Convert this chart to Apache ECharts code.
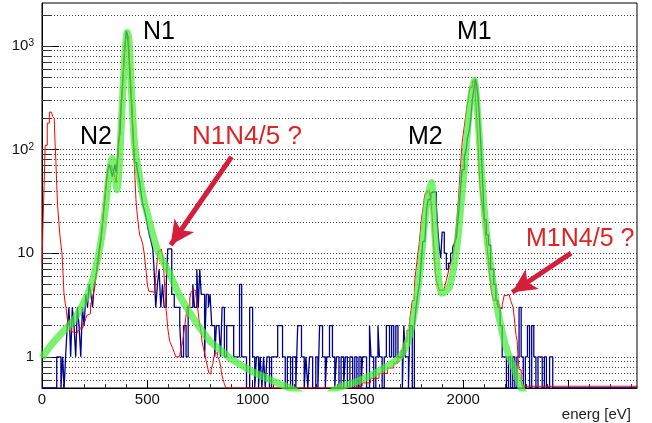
<!DOCTYPE html>
<html><head><meta charset="utf-8">
<script src="https://cdn.jsdelivr.net/npm/echarts@6/dist/echarts.min.js"></script>
<style>html,body{margin:0;padding:0;background:#fff}#c{width:652px;height:423px}</style>
</head><body><div id="c"></div>
<script>
// ---- data (energy in eV, counts) ----
const redE = [0,5,10,15,25,35,45,50,58,62,66,70,74,80,85,90,95,100,104,110,114,118,123,130,140,147,170,180,195,204,212,218,230,237,245,251,256,261,266,270,275,280,285,289,294,299,304,308,313,318,325,332,340,348,352,356,360,365,370,374,379,384,389,393,398,403,412,417,422,427,431,436,441,446,450,455,460,464,470,479,485,490,495,500,507,512,536,540,548,552,566,574,578,583,588,593,597,602,607,614,621,628,635,654,660,668,673,678,685,692,702,708,716,730,735,739,745,754,760,767,773,780,787,792,796,803,811,816,820,827,834,840,844,849,853,860,866,872,1480,1520,1560,1600,1640,1670,1690,1705,1720,1733,1745,1752,1758,1768,1772,1777,1785,1791,1796,1801,1806,1810,1815,1820,1830,1840,1848,1853,1858,1863,1868,1872,1880,1886,1910,1915,1920,1927,1934,1940,1948,1953,1958,1962,1967,1972,1977,1981,1986,1991,1995,2000,2005,2010,2014,2019,2024,2028,2033,2043,2050,2057,2062,2067,2072,2076,2081,2086,2090,2095,2100,2105,2110,2115,2120,2124,2130,2134,2143,2160,2171,2180,2185,2190,2194,2204,2210,2218,2225,2232,2237,2242,2247,2251,2256,2260,2265,2275,2280];
const redN = [8,20,45,110,180,230,235,210,200,117,77,45,29,20,15,12,10,6.4,4.2,3.3,3,2.5,2.2,1.9,1.75,1.7,1.8,1.9,2.1,2.2,2.5,2.6,3.2,3.5,4.2,4.7,5.8,6.8,8,9,11,13,17,22,28,35,43,51,64,68,70,66,60,52,48,50,80,117,195,260,325,450,700,1000,1200,1250,980,640,410,260,165,93,55,33,26,21,17,15,14,12,10,8,6.5,5,4.3,4.2,4.5,6,9,10.5,11,9,7,4.5,3,2.4,1.9,1.6,1.4,1.3,1.2,1.1,1.0,1.05,1.2,1.4,1.7,2.0,2.6,3.1,3.7,4.2,4.4,4.0,3.4,3.0,2.3,1.8,1.4,1.2,1.07,0.9,0.78,0.7,0.68,0.75,0.86,1.0,1.07,1.1,1.0,0.95,0.91,0.8,0.68,0.6,0.55,0,0.52,0.56,0.62,0.69,0.78,0.87,0.98,1.15,1.4,1.8,2.2,2.8,3.5,4.7,6,7.3,10,12.5,16,21,25,28,34,38,40,38,30,22,14,9,6.5,5.5,4.8,4.4,4.6,5,5.5,6.3,7.3,8,9,10,11.4,14,18,24,33,45,64,90,117,140,167,200,230,270,300,350,400,460,450,350,230,150,100,60,41,34,30,24,20,16,13,10.5,8.5,6.5,5.1,4.2,3.5,3.2,3.0,2.9,3.2,3.5,3.9,4.0,4.0,3.9,3.5,3.2,3.0,2.4,1.9,1.6,1.43,1.0,0.75,0.58,0.52,0];
const blueE = [0,70,80,90,98,105,112,120,128,136,144,152,160,168,176,184,192,200,208,216,224,232,240,248,256,264,272,280,288,296,304,310,318,326,334,340,346,352,358,364,370,376,382,388,394,400,405,410,415,420,425,430,435,440,450,458,464,470,478,486,494,502,510,518,526,532,540,548,556,564,572,580,590,597,616,628,640,654,662,672,684,694,705,716,724,735,742,749,756,764,772,780,790,798,806,820,828,840,848,855,866,877,895,910,920,938,948,960,971,986,1000,1010,1018,1028,1036,1044,1052,1060,1068,1080,1090,1105,1119,1142,1155,1165,1180,1190,1205,1214,1232,1245,1253,1262,1270,1285,1300,1310,1318,1332,1345,1352,1365,1379,1390,1398,1410,1420,1432,1440,1450,1462,1475,1485,1495,1505,1515,1522,1541,1555,1562,1575,1585,1595,1602,1615,1625,1635,1650,1660,1670,1680,1690,1711,1718,1725,1740,1747,1758,1768,1776,1784,1792,1800,1808,1818,1826,1834,1846,1853,1862,1872,1878,1886,1893,1900,1910,1920,1930,1940,1950,1958,1967,1974,1981,1988,1995,2005,2014,2020,2028,2036,2043,2050,2057,2064,2070,2077,2086,2093,2100,2110,2120,2130,2145,2155,2165,2175,2185,2195,2205,2215,2225,2235,2245,2255,2265,2275,2285,2295,2305,2315,2325,2335,2345,2355,2365,2375,2385,2395,2410,2425];
const blueN = [0,1,1,0,1,0,1,2,3,1,3,2,1,3,2,1,3,2,4,3,5,4,3,5,6,8,11,14,20,30,45,60,72,65,55,62,72,60,80,125,140,260,420,650,1000,1400,1300,1000,650,420,280,170,110,75,68,55,48,38,30,26,22,18,15,13,11,7,3,5,7,3,5,3,5,11,4,3,3,2,1,2,1,3,3,5,3,7,3,7,4,4,1,4,3,4,2,1,2,2,1,3,1,2,2,1,1,5,1,1,0,3,1,0,1,0,1,0,1,0,1,0,1,1,2,1,0,1,0,1,0,2,1,0,1,0,1,0,1,0,2,1,0,1,2,1,0,1,0,1,0,1,0,1,0,1,0,1,0,1,0,2,1,0,1,2,1,0,1,2,1,2,1,2,1,0,2,1,0,2,0,2,3,4,5,8,13,13,27,33,38,39,39,30,18,11.4,9,16,10,7,8,10,11.4,12.5,14,20,28,45,64,85,100,130,150,200,300,380,480,420,330,200,90,44,21,15,12,7,5,3.5,3,2,1,1,0,1,0,1,0,1,3,1,0,1,2,0,2,1,0,1,1,0,1,0,1,0,1,0];
const fitE = [0,50,100,150,200,230,260,285,300,315,325,333,345,356,365,375,385,395,405,412,420,430,440,455,480,512,550,607,650,700,750,800,850,900,1000,1100,1175,1250,1300,1350,1403,1500,1600,1700,1745,1777,1800,1815,1830,1849,1863,1877,1900,1934,1967,1991,2014,2033,2052,2067,2086,2100,2114,2124,2161,2204,2251,2275,2300];
const fitN = [0.98,1.35,1.75,2.25,3.4,4.7,8,15,26,50,70,82,60,41,60,150,400,900,1350,1200,600,230,110,68,35,19.5,10.5,6.3,4.0,2.7,1.9,1.4,1.15,0.95,0.72,0.58,0.5,0.42,0.4,0.42,0.5,0.58,0.73,1.0,1.6,3.5,8.5,18,33,48,18,7.3,4.1,4.7,10.5,32,105,290,470,245,64,26,13.3,9.2,3,1.22,0.68,0.5,0.4];
const xTicks = [0,500,1000,1500,2000,2500];
const yMajor = [1,10,100,1000];
const yGrid = [0.6,0.7,0.8,0.9,1,2,3,4,5,6,7,8,9,10,20,30,40,50,60,70,80,90,100,200,300,400,500,600,700,800,900,1000,2000];
const peakLabels = ['N1','N2','M1','M2'];
const noteLabels = ['N1N4/5 ?','M1N4/5 ?'];
const arrowFrom = [[900,85],[2512,10]];
const arrowTo = [[611,12],[2233,4.2]];

const X_MIN = 0, X_MAX = 2825, Y_MIN = 0.5, Y_MAX = 2600;
const FONT = '"Liberation Sans", Arial, Helvetica, sans-serif';
const floorIt = v => (v > 0 ? v : Y_MIN);
function steps(E, N) {
  const p = E.map((e, i) => [e, floorIt(N[i])]);
  p.push([X_MAX, floorIt(N[N.length - 1])]);
  return p;
}
const fitPts = fitE.map((e, i) => [e, fitN[i]]);

const chart = echarts.init(document.getElementById('c'), null, {renderer: 'canvas'});
const axisTxt = {color: '#111', fontSize: 15, fontFamily: FONT};
chart.setOption({
  animation: false,
  backgroundColor: '#fff',
  grid: {left: 42, right: 15, top: 3, bottom: 35, show: true, borderColor: '#000', borderWidth: 1, containLabel: false, outerBoundsMode: 'none'},
  xAxis: {
    type: 'value', min: X_MIN, max: X_MAX, interval: 500,
    name: 'energ [eV]', nameLocation: 'end', nameGap: -6,
    nameTextStyle: {color: '#222', fontSize: 15, fontFamily: FONT, align: 'right', verticalAlign: 'top', padding: [19, 0, 0, 0]},
    axisLine: {show: true, lineStyle: {color: '#000', width: 1}},
    axisTick: {show: true, inside: true, length: 8, lineStyle: {color: '#000'}, customValues: xTicks},
    minorTick: {show: true, splitNumber: 5, length: 4, lineStyle: {color: '#333'}},
    axisLabel: Object.assign({margin: 4, showMaxLabel: false, customValues: xTicks, formatter: v => String(v)}, axisTxt),
    splitLine: {show: false}
  },
  yAxis: [{
    type: 'log', logBase: 10, min: Y_MIN, max: Y_MAX, position: 'left',
    axisLine: {show: true, lineStyle: {color: '#000', width: 1}},
    axisTick: {show: true, inside: true, length: 17, lineStyle: {color: '#000'}, customValues: yMajor},
    axisLabel: Object.assign({margin: 8, customValues: yMajor,
      formatter: v => {
        const e = Math.round(Math.log10(v));
        return e <= 1 ? String(Math.round(v)) : '10{sup|' + e + '}';
      },
      rich: {sup: {fontSize: 10, fontFamily: FONT, color: '#111', verticalAlign: 'top', lineHeight: 10, padding: [0, 0, 8, 0]}}
    }, axisTxt),
    splitLine: {show: false}, minorTick: {show: false}
  }, {
    type: 'log', logBase: 10, min: Y_MIN, max: Y_MAX, position: 'left',
    axisLine: {show: false},
    axisTick: {show: true, inside: true, length: 10, lineStyle: {color: '#333'}, customValues: yGrid},
    axisLabel: {show: false, customValues: yGrid},
    splitLine: {show: true, lineStyle: {color: '#444', width: 1, type: [1, 2]}}
  }],
  graphic: [
    {type: 'text', left: 143, top: 20, style: {text: peakLabels[0], font: '25px ' + FONT, fill: '#000'}},
    {type: 'text', left: 80, top: 125, style: {text: peakLabels[1], font: '25px ' + FONT, fill: '#000'}},
    {type: 'text', left: 457, top: 20, style: {text: peakLabels[2], font: '25px ' + FONT, fill: '#000'}},
    {type: 'text', left: 408, top: 125, style: {text: peakLabels[3], font: '25px ' + FONT, fill: '#000'}},
    {type: 'text', left: 192, top: 124, style: {text: noteLabels[0], font: '26px ' + FONT, fill: '#dd2424'}},
    {type: 'text', left: 526, top: 227, style: {text: noteLabels[1], font: '25px ' + FONT, fill: '#dd2424'}}
  ],
  series: [
    {type: 'line', name: 'blue', step: 'end', data: steps(blueE, blueN), showSymbol: false, symbol: 'none',
     lineStyle: {color: '#00008e', width: 1.3}, z: 2, clip: true},
    {type: 'line', name: 'red', step: 'end', data: steps(redE, redN), showSymbol: false, symbol: 'none',
     lineStyle: {color: '#ff0000', width: 1}, z: 3, clip: true},
    {type: 'line', name: 'fit', data: fitPts, smooth: 0.3, showSymbol: false, symbol: 'none',
     lineStyle: {color: 'rgba(70,235,55,0.72)', width: 7}, z: 4, clip: true,
     markLine: {
       silent: true, animation: false, label: {show: false},
       lineStyle: {color: '#d51f3a', width: 5, type: 'solid'},
       data: arrowFrom.map((f, i) => [
         {coord: f, symbol: 'none'},
         {coord: arrowTo[i], symbol: 'arrow', symbolSize: [18, 24]}
       ])
     }}
  ]
});
</script></body></html>
